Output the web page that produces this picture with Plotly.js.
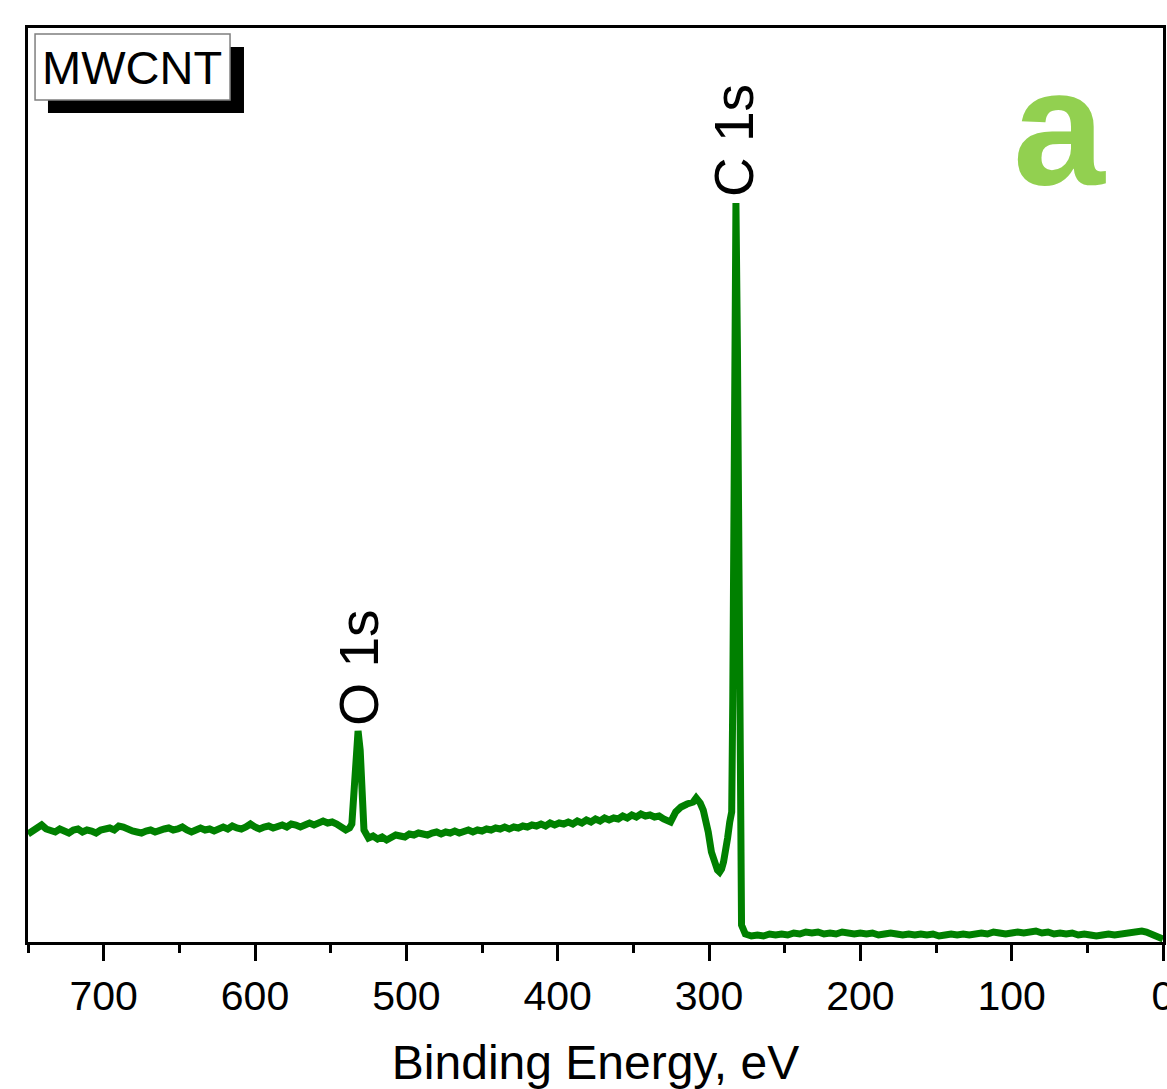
<!DOCTYPE html>
<html>
<head>
<meta charset="utf-8">
<script src="https://cdn.plot.ly/plotly-3.0.1.min.js"></script>
<style>html,body{margin:0;padding:0;background:#fff;}#chart{width:1167px;height:1089px;}</style>
</head>
<body>
<div id="chart"></div>
<script>
// Binding energy (eV) and intensity (a.u.)
const energy = [
  750, 747, 744, 741, 738, 735, 732, 729, 726, 723,
  720, 717, 714, 711, 708, 705, 702, 699, 696, 693,
  690, 687, 684, 681, 678, 675, 672, 669, 666, 663,
  660, 657, 654, 651, 648, 645, 642, 639, 636, 633,
  630, 627, 624, 621, 618, 615, 612, 609, 606, 603,
  600, 597, 594, 591, 588, 585, 582, 579, 576, 573,
  570, 567, 564, 561, 558, 555, 552, 549, 546, 543,
  540, 537.5, 536, 534.5, 533, 531.9, 530.5, 529.2, 528, 525,
  522, 519, 516, 513, 510, 507, 504, 501, 498, 495,
  492, 489, 486, 483, 480, 477, 474, 471, 468, 465,
  462, 459, 456, 453, 450, 447, 444, 441, 438, 435,
  432, 429, 426, 423, 420, 417, 414, 411, 408, 405,
  402, 399, 396, 393, 390, 387, 384, 381, 378, 375,
  372, 369, 366, 363, 360, 357, 354, 351, 348, 345,
  342, 339, 336, 333, 330, 327, 325.4, 322, 318.5, 314.5,
  310.5, 308.5, 305.8, 303.8, 301.8, 300.5, 298.4, 297, 295.7, 294.4,
  293, 291.7, 290.4, 289, 287.7, 286.3, 285, 284.3, 283.2, 282.2,
  281.2, 280.2, 279.6, 278.5, 276, 272, 268, 264, 260, 256,
  252, 248, 244, 240, 236, 232, 228, 224, 220, 216,
  212, 208, 204, 200, 196, 192, 188, 184, 180, 176,
  172, 168, 164, 160, 156, 152, 148, 144, 140, 136,
  132, 128, 124, 120, 116, 112, 108, 104, 100, 96,
  92, 88, 84, 80, 76, 72, 68, 64, 60, 56,
  52, 48, 44, 40, 36, 32, 28, 24, 20, 17,
  14, 11, 8, 5, 2, 0
];
const intensity = [
  108, 111, 113, 117, 113, 112, 110, 113, 111, 109,
  112, 113, 110, 112, 111, 109, 112, 113, 114, 112,
  116, 115, 112, 111, 110, 109, 111, 112, 110, 112,
  113, 114, 112, 113, 115, 112, 110, 112, 114, 112,
  113, 111, 114, 115, 113, 116, 114, 113, 115, 118,
  115, 113, 115, 116, 114, 116, 117, 115, 118, 117,
  115, 117, 119, 117, 119, 121, 119, 120, 118, 115,
  112, 114, 118, 152, 197, 211, 192, 137, 112, 104,
  106, 103, 105, 102, 104, 107, 106, 105, 108, 107,
  109, 108, 107, 109, 110, 108, 110, 109, 111, 109,
  111, 112, 110, 112, 111, 113, 112, 114, 113, 115,
  113, 115, 114, 116, 115, 117, 116, 118, 116, 119,
  117, 119, 118, 120, 118, 121, 119, 122, 120, 123,
  121, 124, 122, 124, 123, 126, 124, 127, 125, 128,
  126, 127, 125, 126, 123, 121, 120, 130, 135, 138,
  140, 144, 139, 132, 120, 110, 90, 82, 76, 72,
  70, 73, 80, 90, 104, 120, 130, 242, 542, 739,
  592, 242, 62, 17, 8, 6, 7, 6, 8, 7,
  8, 7, 9, 8, 10, 9, 10, 8, 9, 8,
  10, 9, 8, 9, 8, 9, 7, 8, 9, 8,
  7, 8, 7, 8, 7, 8, 6, 7, 8, 7,
  8, 7, 8, 9, 8, 10, 9, 8, 9, 10,
  9, 10, 11, 9, 10, 8, 9, 8, 9, 7,
  8, 7, 6, 7, 8, 7, 8, 9, 10, 11,
  11, 10, 8, 6, 5, 3
];
const xTickVals = [700, 600, 500, 400, 300, 200, 100, 0];
const xTickText = ['700', '600', '500', '400', '300', '200', '100', '0'];

const FONT = 'Liberation Sans, Arial, sans-serif';

const trace = {
  x: energy, y: intensity, type: 'scatter', mode: 'lines',
  line: {color: '#008000', width: 7, shape: 'linear'},
  hoverinfo: 'skip'
};

const layout = {
  width: 1167, height: 1089,
  margin: {l: 28, r: 4, t: 28, b: 147},
  paper_bgcolor: '#ffffff', plot_bgcolor: '#ffffff',
  showlegend: false,
  font: {family: FONT, color: '#000'},
  xaxis: {
    range: [750, 0], autorange: false,
    tickmode: 'array', tickvals: xTickVals, ticktext: xTickText,
    ticks: 'outside', ticklen: 16, tickwidth: 3, tickcolor: '#000',
    minor: {dtick: 50, tick0: 0, ticks: 'outside', ticklen: 8, tickwidth: 3, tickcolor: '#000', showgrid: false},
    tickfont: {size: 41, family: FONT, color: '#000'},
    ticklabeloverflow: 'allow',
    showline: true, linewidth: 3, linecolor: '#000', mirror: true,
    showgrid: false, zeroline: false, automargin: false,
    title: {text: 'Binding Energy, eV', font: {size: 48, family: FONT, color: '#000'}, standoff: 38}
  },
  yaxis: {
    range: [0, 914], autorange: false,
    showticklabels: false, ticks: '',
    showline: true, linewidth: 3, linecolor: '#000', mirror: true,
    showgrid: false, zeroline: false, automargin: false
  },
  shapes: [
    {type: 'rect', xref: 'paper', yref: 'paper', x0: 0.0176, x1: 0.1903, y0: 0.9070, y1: 0.9792,
     fillcolor: '#000', line: {width: 0}},
    {type: 'rect', xref: 'paper', yref: 'paper', x0: 0.0062, x1: 0.1780, y0: 0.9212, y1: 0.9934,
     fillcolor: '#fff', line: {color: '#7f7f7f', width: 1.5}}
  ],
  annotations: [
    {xref: 'paper', yref: 'paper', x: 0.0915, y: 0.9573, text: 'MWCNT', showarrow: false,
     xanchor: 'center', yanchor: 'middle', font: {size: 47, family: FONT, color: '#000'}},
    {xref: 'x', yref: 'y', x: 283.5, y: 802, text: 'C 1s', textangle: -90, showarrow: false,
     xanchor: 'center', yanchor: 'middle', font: {size: 55, family: FONT, color: '#000'}},
    {xref: 'x', yref: 'y', x: 531.5, y: 274, text: 'O 1s', textangle: -90, showarrow: false,
     xanchor: 'center', yanchor: 'middle', font: {size: 55, family: FONT, color: '#000'}},
    {xref: 'paper', yref: 'paper', x: 0.9085, y: 0.892, text: '<b>a</b>', showarrow: false,
     xanchor: 'center', yanchor: 'middle', font: {size: 165, family: FONT, color: '#92d050'}}
  ]
};

Plotly.newPlot('chart', [trace], layout, {staticPlot: true, displayModeBar: false});
</script>
</body>
</html>
